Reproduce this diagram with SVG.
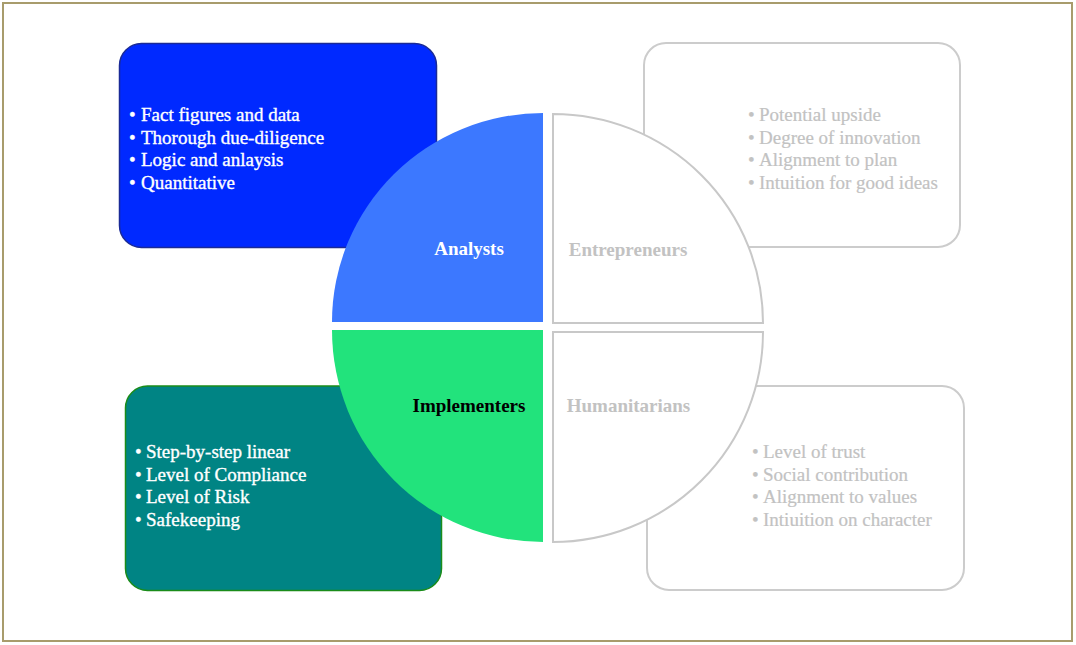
<svg xmlns="http://www.w3.org/2000/svg" width="1076" height="645" viewBox="0 0 1076 645">
<style>
text{font-family:"Liberation Serif","Times New Roman",serif;font-size:19px}
.lbl{font-weight:bold}
.w{fill:#ffffff}
.lw{fill:#ffffff;stroke:#ffffff;stroke-width:0.35}
.g{fill:#c2c2c2}
.lg{fill:#c2c2c2;stroke:#c2c2c2;stroke-width:0.2}
.gbox{fill:#ffffff;stroke:#cccccc;stroke-width:2}
.gq{fill:#ffffff;stroke:#c8c8c8;stroke-width:2}
</style>
<rect x="0" y="0" width="1076" height="645" fill="#ffffff"/>
<rect x="3" y="3" width="1069" height="638" fill="none" stroke="#a89c6c" stroke-width="2"/>
<g id="connectors"></g>
<g id="analysts-box">
<rect x="119.5" y="43.5" width="317" height="204" rx="22" fill="#0029ff" stroke="#1a2a96" stroke-width="1.5"/>
<g class="lw">
<text x="129" y="121">•</text><text x="141" y="121">Fact figures and data</text>
<text x="129" y="143.5">•</text><text x="141" y="143.5">Thorough due-diligence</text>
<text x="129" y="166">•</text><text x="141" y="166">Logic and anlaysis</text>
<text x="129" y="188.5">•</text><text x="141" y="188.5">Quantitative</text>
</g>
</g>
<g id="entrepreneurs-box">
<rect x="644" y="43" width="316" height="204" rx="22" class="gbox"/>
<g class="lg">
<text x="748" y="121">•</text><text x="759" y="121">Potential upside</text>
<text x="748" y="143.5">•</text><text x="759" y="143.5">Degree of innovation</text>
<text x="748" y="166">•</text><text x="759" y="166">Alignment to plan</text>
<text x="748" y="188.5">•</text><text x="759" y="188.5">Intuition for good ideas</text>
</g>
</g>
<g id="implementers-box">
<rect x="125.5" y="386" width="316" height="204.5" rx="22" fill="#008484" stroke="#1a8c1a" stroke-width="1.5"/>
<g class="lw">
<text x="135" y="458">•</text><text x="146" y="458">Step-by-step linear</text>
<text x="135" y="480.5">•</text><text x="146" y="480.5">Level of Compliance</text>
<text x="135" y="503">•</text><text x="146" y="503">Level of Risk</text>
<text x="135" y="525.5">•</text><text x="146" y="525.5">Safekeeping</text>
</g>
</g>
<g id="humanitarians-box">
<rect x="647" y="386" width="317" height="204" rx="22" class="gbox"/>
<g class="lg">
<text x="752" y="458">•</text><text x="763" y="458">Level of trust</text>
<text x="752" y="480.5">•</text><text x="763" y="480.5">Social contribution</text>
<text x="752" y="503">•</text><text x="763" y="503">Alignment to values</text>
<text x="752" y="525.5">•</text><text x="763" y="525.5">Intiuition on character</text>
</g>
</g>
<g id="analysts">
<path d="M543,322 V113 A211,209 0 0 0 332,322 Z" fill="#3c78ff"/>
<text class="lbl w" x="469" y="255" text-anchor="middle">Analysts</text>
</g>
<g id="entrepreneurs">
<path d="M553,323 V114 A210,209 0 0 1 763,323 Z" class="gq"/>
<text class="lbl g" x="628" y="256" text-anchor="middle">Entrepreneurs</text>
</g>
<g id="implementers">
<path d="M543,330 V542 A211,212 0 0 1 332,330 Z" fill="#22e37c"/>
<text class="lbl" x="469" y="412" text-anchor="middle" fill="#000000">Implementers</text>
</g>
<g id="humanitarians">
<path d="M553,332 H763 A210,210 0 0 1 553,542 Z" class="gq"/>
<text class="lbl g" x="628.5" y="412" text-anchor="middle">Humanitarians</text>
</g>
</svg>
